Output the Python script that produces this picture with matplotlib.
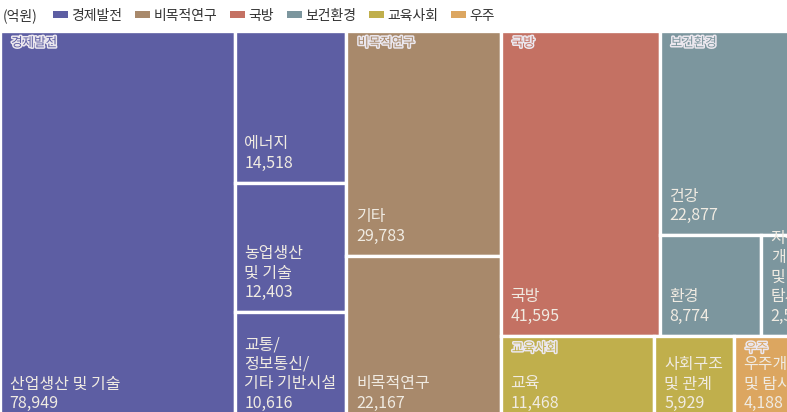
import matplotlib
matplotlib.use("Agg")
import matplotlib.pyplot as plt
import matplotlib.patheffects as pe
from matplotlib.patches import Rectangle, Patch

plt.rcParams['font.family'] = ['Noto Sans CJK KR', 'DejaVu Sans']

# 분야별 예산 (억원)
GROUPS = ['경제발전', '비목적연구', '국방', '보건환경', '교육사회', '우주']
GROUP_COLORS = ['#5d5ea3', '#a8896b', '#c47163', '#7c969e', '#c0af4c', '#dca660']

ECON_NAMES = ['산업생산 및 기술', '에너지', '농업생산\n및 기술', '교통/\n정보통신/\n기타 기반시설']
ECON_VALUES = [78949, 14518, 12403, 10616]
BASIC_NAMES = ['기타', '비목적연구']
BASIC_VALUES = [29783, 22167]
DEFENSE_NAMES = ['국방']
DEFENSE_VALUES = [41595]
HEALTH_NAMES = ['건강', '환경', '지구\n개발\n및\n탐사']
HEALTH_VALUES = [22877, 8774, 2524]
EDU_NAMES = ['교육', '사회구조\n및 관계']
EDU_VALUES = [11468, 5929]
SPACE_NAMES = ['우주개발\n및 탐사']
SPACE_VALUES = [4188]


def split(rect, weights, horizontal):
    x, y, w, h = rect
    tot = sum(weights)
    out = []
    pos = 0.0
    for wt in weights:
        f = wt / tot
        if horizontal:
            out.append((x + pos * w, y, f * w, h))
        else:
            out.append((x, y + pos * h, w, f * h))
        pos += f
    return out


# 트리맵 배치 계산
root = (0.0, 0.0, 1.0, 1.0)
econ_r, basic_r, right_r = split(root, [sum(ECON_VALUES), sum(BASIC_VALUES),
                                        sum(DEFENSE_VALUES) + sum(HEALTH_VALUES) + sum(EDU_VALUES) + sum(SPACE_VALUES)], True)
econ_big, econ_rest = split(econ_r, [ECON_VALUES[0], sum(ECON_VALUES[1:])], True)
econ_rects = [econ_big] + split(econ_rest, ECON_VALUES[1:], False)
basic_rects = split(basic_r, BASIC_VALUES, False)
top_r, bottom_r = split(right_r, [sum(DEFENSE_VALUES) + sum(HEALTH_VALUES),
                                  sum(EDU_VALUES) + sum(SPACE_VALUES)], False)
defense_r, health_r = split(top_r, [sum(DEFENSE_VALUES), sum(HEALTH_VALUES)], True)
health_top, health_low = split(health_r, [HEALTH_VALUES[0], sum(HEALTH_VALUES[1:])], False)
health_rects = [health_top] + split(health_low, HEALTH_VALUES[1:], True)
bottom_rects = split(bottom_r, EDU_VALUES + SPACE_VALUES, True)

tiles = [
    (0, ECON_NAMES, ECON_VALUES, econ_rects),
    (1, BASIC_NAMES, BASIC_VALUES, basic_rects),
    (2, DEFENSE_NAMES, DEFENSE_VALUES, [defense_r]),
    (3, HEALTH_NAMES, HEALTH_VALUES, health_rects),
    (4, EDU_NAMES, EDU_VALUES, bottom_rects[:2]),
    (5, SPACE_NAMES, SPACE_VALUES, bottom_rects[2:]),
]

fig = plt.figure(figsize=(7.87, 4.12), dpi=100)
# 트리맵은 그림 아래/오른쪽 밖으로 조금 넘어간다
ax = fig.add_axes([0.0, -0.027, 1.004, 0.952])
ax.set_xlim(0, 1)
ax.set_ylim(1, 0)
ax.axis('off')

for gi, names, values, rects in tiles:
    color = GROUP_COLORS[gi]
    for k, (name, val, r) in enumerate(zip(names, values, rects)):
        x, y, w, h = r
        ax.add_patch(Rectangle((x, y), w, h, facecolor=color, edgecolor='white', linewidth=2.4))
        ax.annotate(f"{name}\n{val:,}", (x, y + h), xytext=(7, 8), textcoords='offset points',
                    ha='left', va='bottom', fontsize=11.5, color='#f0ebe2',
                    linespacing=1.2, annotation_clip=False)
        if k == 0:
            ax.annotate(GROUPS[gi], (x, y), xytext=(8, -4), textcoords='offset points',
                        ha='left', va='top', fontsize=9, color=color,
                        path_effects=[pe.Stroke(linewidth=2.2, foreground='#ebe7ee'), pe.Normal()])

fig.text(0.003, 0.962, '(억원)', fontsize=10, color='#333333', va='center', ha='left')
handles = [Patch(facecolor=c, edgecolor='none') for c in GROUP_COLORS]
fig.legend(handles, GROUPS, loc='center left', bbox_to_anchor=(0.058, 0.962), ncol=6,
           frameon=False, fontsize=10, handlelength=1.1, handleheight=0.4,
           handletextpad=0.25, columnspacing=0.9, borderpad=0, labelcolor='#333333')

fig.savefig('out.png', dpi=100)
